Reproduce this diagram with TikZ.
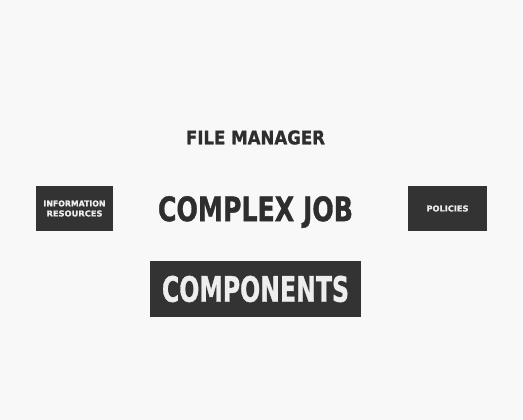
\documentclass[tikz,border=0pt]{standalone}
\usepackage{fontspec}
\setmainfont{DejaVu Sans}
\newfontfamily\heavy{DejaVu Sans}[UprightFont=*-Bold,FakeBold=1.2]
\usepackage{graphicx}
\definecolor{bg}{HTML}{F8F8F8}
\definecolor{boxc}{HTML}{333333}
\definecolor{txtd}{HTML}{2E2E2E}
\definecolor{txtl}{HTML}{EEEEEE}
\newcommand{\wh}[3]{\resizebox{#1pt}{#2pt}{\heavy #3}}
\begin{document}
\begin{tikzpicture}[x=1pt,y=1pt,
  darkbox/.style={fill=boxc,draw=none,inner sep=0pt},
  lbl/.style={inner sep=0pt}]
\useasboundingbox (0,0) rectangle (523,420);
\fill[bg] (0,0) rectangle (523,420);
% boxes
\node[darkbox,minimum width=77pt,minimum height=45pt] (info) at (74.5,211.5) {};
\node[darkbox,minimum width=79pt,minimum height=45pt] (pol) at (447.5,211.5) {};
\node[darkbox,minimum width=211pt,minimum height=56pt] (comp) at (255.5,131) {};
% texts
\node[lbl,text=txtd] (fm) at (255.5,282.5) {\wh{139}{14}{FILE MANAGER}};
\node[lbl,text=txtd] (cj) at (255.5,208) {\wh{195}{25}{COMPLEX JOB}};
\node[lbl,text=txtl] (ct) at (comp.center) {\wh{187}{26}{COMPONENTS}};
\node[lbl,text=txtl] (it1) at ([yshift=5pt]info.center) {\wh{62}{6}{INFORMATION}};
\node[lbl,text=txtl] (it2) at ([yshift=-5pt]info.center) {\wh{56}{6}{RESOURCES}};
\node[lbl,text=txtl] (pt) at (pol.center) {\wh{42}{6}{POLICIES}};
\end{tikzpicture}
\end{document}
